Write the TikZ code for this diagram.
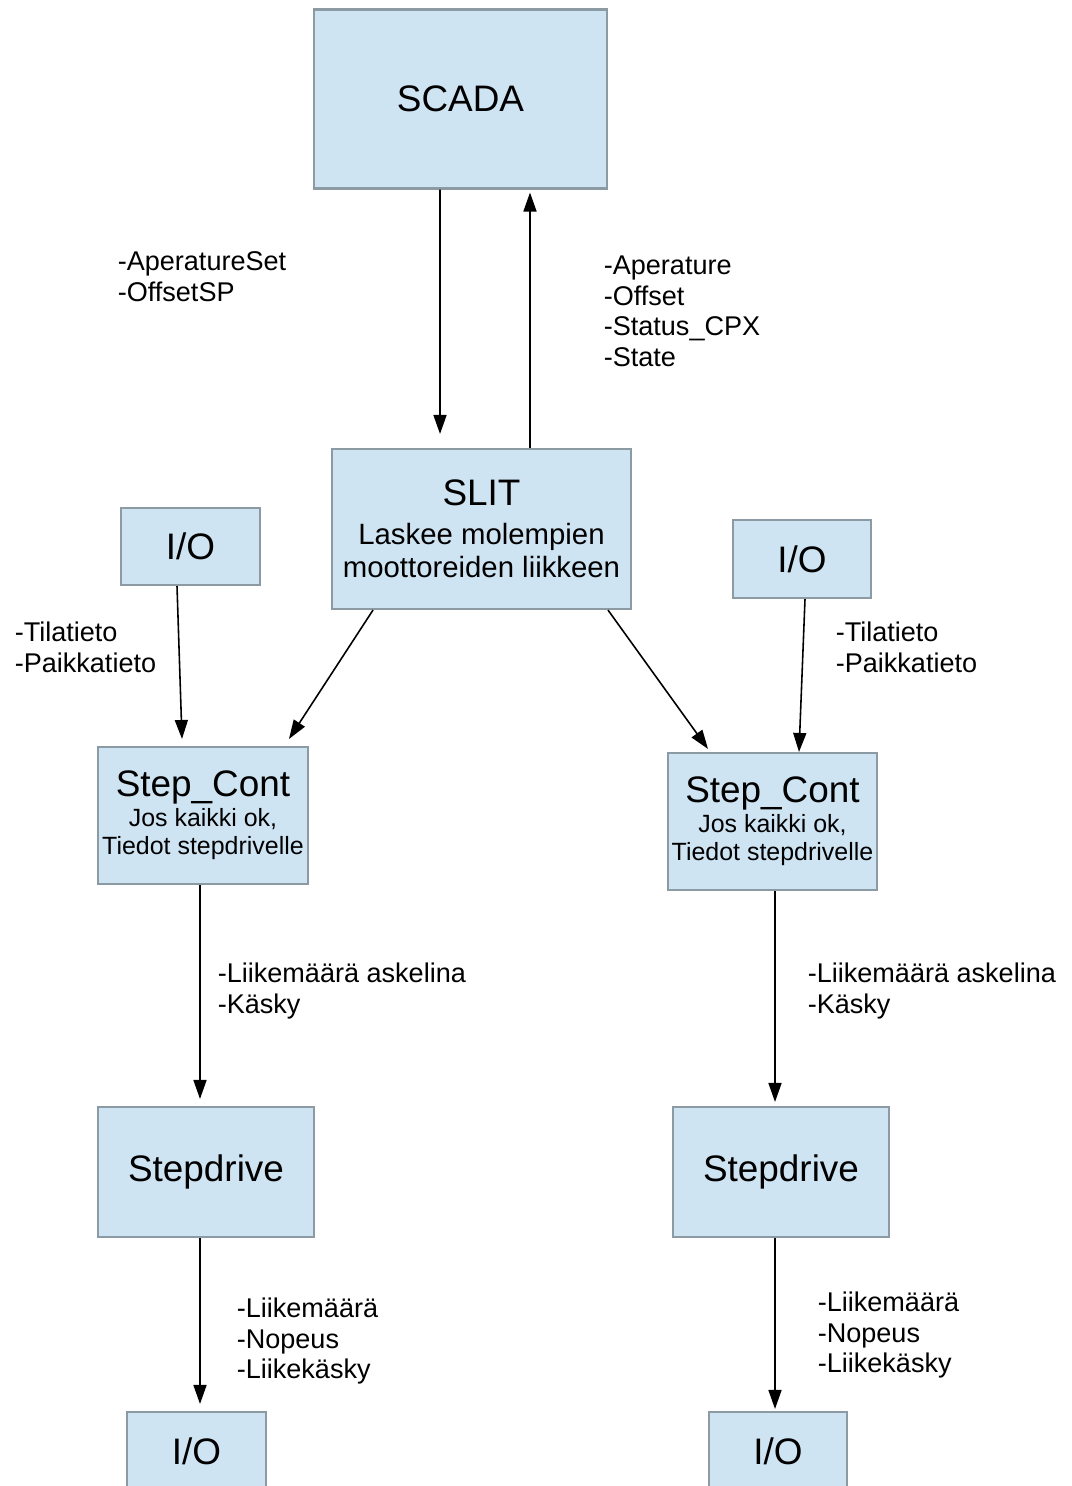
\documentclass[tikz,border=0pt]{standalone}
\usepackage{fontspec}
\setmainfont{Liberation Sans}
\usepackage{tikz}
\usetikzlibrary{arrows.meta,positioning}
\definecolor{boxfill}{HTML}{CFE4F3}
\definecolor{boxline}{HTML}{8C9AA4}
\tikzset{
  block/.style={rectangle,draw=boxline,fill=boxfill,line width=1.2pt,inner sep=0pt,align=center,
    font=\fontsize{21}{24}\selectfont},
  lbl/.style={anchor=north west,inner sep=0pt,align=left,font=\fontsize{15.4}{17.5}\selectfont},
}
\newcommand{\subtxt}[1]{{\fontsize{14.2}{16.5}\selectfont #1}}
\newcommand{\slittxt}[1]{{\fontsize{16.7}{18.8}\selectfont #1}}
\begin{document}
\begin{tikzpicture}[x=0.02cm,y=-0.02cm,->,>={Triangle[length=0.38cm,width=0.26cm]},line width=0.9pt]
  \useasboundingbox (0,0) rectangle (1071,1486);
  \begin{scope}
  \clip (0,0) rectangle (1071,1486);

  % Define blocks by coordinates
  \node[block,minimum width=5.86cm,minimum height=3.58cm] (scada) at (460.5,99) {SCADA};
  \node[block,minimum width=5.98cm,minimum height=3.2cm] (slit) at (481.5,529)
    {SLIT\\[-2pt]\slittxt{Laskee molempien}\\[-5pt]\slittxt{moottoreiden liikkeen}};
  \node[block,minimum width=2.78cm,minimum height=1.54cm] (ioL) at (190.5,546.5) {I/O};
  \node[block,minimum width=2.76cm,minimum height=1.56cm] (ioR) at (802,559) {I/O};
  \node[block,minimum width=4.2cm,minimum height=2.74cm] (contL) at (203,815.5)
    {Step\_Cont\\[-7pt]\subtxt{Jos kaikki ok,}\\[-8pt]\subtxt{Tiedot stepdrivelle}};
  \node[block,minimum width=4.18cm,minimum height=2.74cm] (contR) at (772.5,821.5)
    {Step\_Cont\\[-7pt]\subtxt{Jos kaikki ok,}\\[-8pt]\subtxt{Tiedot stepdrivelle}};
  \node[block,minimum width=4.32cm,minimum height=2.6cm] (driveL) at (206,1172) {Stepdrive};
  \node[block,minimum width=4.32cm,minimum height=2.6cm] (driveR) at (781,1172) {Stepdrive};
  \node[block,minimum width=2.78cm,minimum height=1.56cm] (outL) at (196.5,1451) {I/O};
  \node[block,minimum width=2.76cm,minimum height=1.56cm] (outR) at (778,1451) {I/O};

  % Signals
  \draw ([xshift=-0.41cm]scada.south) -- ([xshift=-0.83cm,yshift=0.28cm]slit.north);
  \draw ([xshift=0.97cm]slit.north) -- ([xshift=1.39cm,yshift=-0.06cm]scada.south);
  \draw ([xshift=-2.17cm]slit.south) -- ([xshift=1.72cm,yshift=0.14cm]contL.north);
  \draw ([xshift=2.53cm]slit.south) -- ([xshift=-1.29cm,yshift=0.06cm]contR.north);
  \draw ([xshift=-0.27cm]ioL.south) -- ([xshift=-0.42cm,yshift=0.14cm]contL.north);
  \draw ([xshift=0.06cm]ioR.south) -- ([xshift=0.53cm]contR.north);
  \draw ([xshift=-0.06cm]contL.south) -- ([xshift=-0.12cm,yshift=0.14cm]driveL.north);
  \draw ([xshift=0.05cm]contR.south) -- ([xshift=-0.12cm,yshift=0.08cm]driveR.north);
  \draw ([xshift=-0.12cm]driveL.south) -- ([xshift=0.07cm,yshift=0.14cm]outL.north);
  \draw ([xshift=-0.12cm]driveR.south) -- ([xshift=-0.06cm,yshift=0.04cm]outR.north);

  % Labels
  \node[lbl] (setL) at (117,251) {-AperatureSet\\-OffsetSP};
  \node[lbl] (stat) at (603,255) {-Aperature\\-Offset\\-Status\_CPX\\-State};
  \node[lbl] (tilaL) at (14,621) {-Tilatieto\\-Paikkatieto};
  \node[lbl] (tilaR) at (835,621) {-Tilatieto\\-Paikkatieto};
  \node[lbl] (askL) at (217,962) {-Liikemäärä askelina\\-Käsky};
  \node[lbl] (askR) at (807,962) {-Liikemäärä askelina\\-Käsky};
  \node[lbl] (nopL) at (236,1297) {-Liikemäärä\\-Nopeus\\-Liikekäsky};
  \node[lbl] (nopR) at (817,1291) {-Liikemäärä\\-Nopeus\\-Liikekäsky};
  \end{scope}
\end{tikzpicture}
\end{document}
